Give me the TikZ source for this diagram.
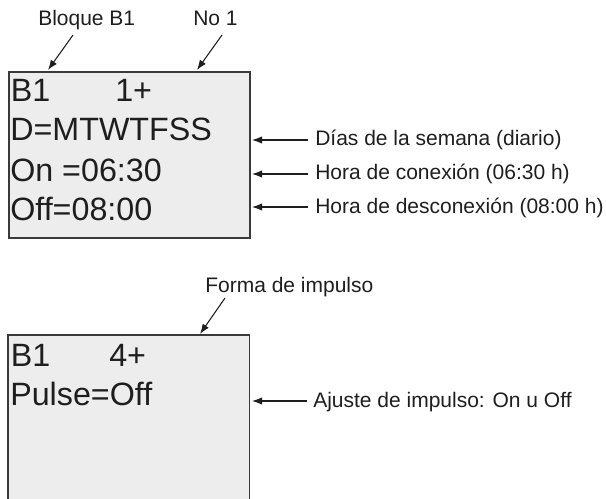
\documentclass[tikz,border=0pt]{standalone}
\usepackage{fontspec}
\setmainfont{Liberation Sans}
\usetikzlibrary{arrows.meta}
\definecolor{lcdgray}{HTML}{EDEDED}
\definecolor{boxline}{HTML}{3A3A3A}
\definecolor{textgray}{HTML}{1E1E1E}
\begin{document}
\begin{tikzpicture}[x=0.75pt,y=-0.75pt,
  lcdbox/.style={fill=lcdgray, draw=boxline, line width=1.2pt, inner sep=0pt, anchor=north west},
  lcdtxt/.style={anchor=base west, inner sep=0pt, font=\fontsize{24.2pt}{28pt}\selectfont, text=textgray},
  note/.style={anchor=base west, inner sep=0pt, font=\fontsize{15.75pt}{19pt}\selectfont, text=textgray},
  ptr/.style={-{Latex[length=7.5pt,width=5.5pt]}, line width=0.8pt, draw=textgray}]
\useasboundingbox (0,0) rectangle (606,499);
\clip (0,0) rectangle (606,499);

% box 1
\node (box1) [lcdbox, minimum width=180.75pt, minimum height=124.5pt] at (8,71) {};
\node (b1a) [lcdtxt] at (10.5,101.5) {B1};
\node (b1b) [lcdtxt] at (115,101.5) {1+};
\node (b1c) [lcdtxt] at (10,141) {D=MTWTFSS};
\node (b1d) [lcdtxt] at (10,181) {On =06:30};
\node (b1e) [lcdtxt] at (10,220) {Off=08:00};

% box 2 (open at the bottom)
\node (box2) [fill=lcdgray, inner sep=0pt, anchor=north west, minimum width=180.75pt, minimum height=135pt] at (8,335) {};
\draw[draw=boxline, line width=1.2pt] (box2.south west) -- (box2.north west) -- (box2.north east) -- (box2.south east);
\node (b2a) [lcdtxt] at (10.5,366) {B1};
\node (b2b) [lcdtxt] at (109,366) {4+};
\node (b2c) [lcdtxt] at (10,405) {Pulse=Off};

% top annotations
\node (lblB) [note] at (38,26) {Bloque B1};
\node (lblN) [note] at (193,26) {No 1};
\coordinate (tB0) at (73,35);   \coordinate (tB1) at (48,70);
\coordinate (tN0) at (222,35);  \coordinate (tN1) at (197,70);
\draw[ptr] (tB0) -- (tB1);
\draw[ptr] (tN0) -- (tN1);

\node (lblF) [note] at (205,292) {Forma de impulso};
\coordinate (tF0) at (225,298); \coordinate (tF1) at (200,334);
\draw[ptr] (tF0) -- (tF1);

% right annotations
\node (lblD) [note] at (315,146) {Días de la semana (diario)};
\node (lblC) [note] at (315,180) {Hora de conexión (06:30 h)};
\node (lblX) [note] at (315,213) {Hora de desconexión (08:00 h)};
\node (lblA) [note] at (313,407) {Ajuste de impulso: On u Off};
\coordinate (rD0) at (308,140); \coordinate (rD1) at (252,140);
\coordinate (rC0) at (308,174); \coordinate (rC1) at (252,174);
\coordinate (rX0) at (308,207); \coordinate (rX1) at (252,207);
\coordinate (rA0) at (307,401); \coordinate (rA1) at (252,401);
\draw[ptr] (rD0) -- (rD1);
\draw[ptr] (rC0) -- (rC1);
\draw[ptr] (rX0) -- (rX1);
\draw[ptr] (rA0) -- (rA1);
\end{tikzpicture}
\end{document}
